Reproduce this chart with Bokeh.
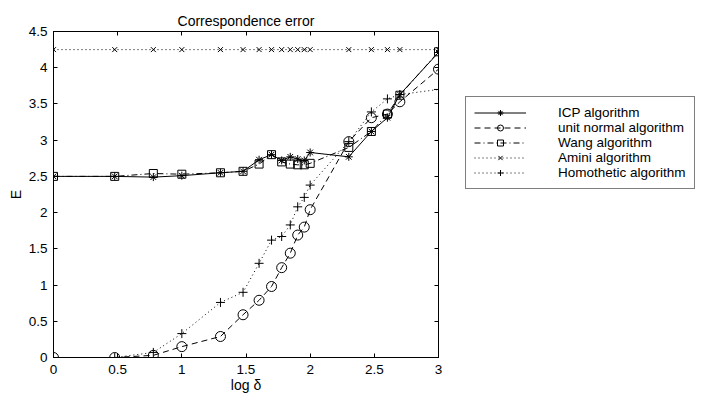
from bokeh.plotting import figure
from bokeh.models import Legend, LegendItem, LinearAxis, FixedTicker, Range1d
from bokeh.layouts import row
from bokeh.embed import file_html
from bokeh.resources import INLINE

# ---- data ----
log_delta = [0.0, 0.477, 0.778, 1.0, 1.301, 1.477, 1.602, 1.699, 1.778, 1.845,
             1.903, 1.954, 2.0, 2.301, 2.477, 2.602, 2.699, 3.0]
icp = [2.50, 2.50, 2.49, 2.51, 2.55, 2.57, 2.73, 2.80, 2.72, 2.77,
       2.74, 2.72, 2.83, 2.77, 3.12, 3.31, 3.63, 4.21]
unit_normal = [0.0, 0.0, 0.03, 0.15, 0.29, 0.59, 0.79, 0.98, 1.24, 1.44,
               1.69, 1.80, 2.04, 2.98, 3.31, 3.36, 3.53, 3.98]
wang = [2.50, 2.50, 2.54, 2.53, 2.55, 2.57, 2.67, 2.80, 2.70, 2.67,
        2.66, 2.66, 2.68, 2.90, 3.12, 3.36, 3.62, 4.22]
amini = [4.25, 4.25, 4.25, 4.25, 4.25, 4.25, 4.25, 4.25, 4.25, 4.25,
         4.25, 4.25, 4.25, 4.25, 4.25, 4.25, 4.25, 4.25]
homothetic = [0.0, 0.0, 0.07, 0.33, 0.76, 0.90, 1.30, 1.62, 1.67, 1.83,
              2.08, 2.21, 2.38, 2.98, 3.39, 3.57, 3.63, 3.70]

series_names = ["ICP algorithm", "unit normal algorithm", "Wang algorithm",
                "Amini algorithm", "Homothetic algorithm"]

x_ticks = [0, 0.5, 1, 1.5, 2, 2.5, 3]
x_tick_labels = ["0", "0.5", "1", "1.5", "2", "2.5", "3"]
y_ticks = [0, 0.5, 1, 1.5, 2, 2.5, 3, 3.5, 4, 4.5]
y_tick_labels = ["0", "0.5", "1", "1.5", "2", "2.5", "3", "3.5", "4", "4.5"]

title_text = "Correspondence error"
x_label = "log δ"
y_label = "E"

FONT = "Liberation Sans"
TICK_FS = "13.5px"
H = 400

# series styles: (values, line_dash, marker, size)
styles = [
    (icp, "solid", "asterisk", 8),
    (unit_normal, "6 4", "circle", 10),
    (wang, "6 3 1 3", "square", 8),
    (amini, "1 3", "x", 7),
    (homothetic, "1 3", "cross", 9),
]

# ================= main plot =================
p = figure(width=460, height=H, x_range=Range1d(0, 3), y_range=Range1d(0, 4.5),
           output_backend="svg", toolbar_location=None, title=title_text)
p.min_border = 0
p.min_border_left = 53
p.min_border_right = 22
p.min_border_top = 31
p.min_border_bottom = 43
p.background_fill_color = "white"
p.border_fill_color = "white"
p.outline_line_color = "black"
p.outline_line_width = 1
p.xgrid.visible = False
p.ygrid.visible = False

p.title.align = "center"
p.title.vertical_align = "middle"
p.title.text_font = FONT
p.title.text_font_size = "14px"
p.title.text_font_style = "normal"
p.title.text_color = "black"
p.title.standoff = 4


def style_axis(ax, ticks, labels, show_labels=True):
    ax.ticker = FixedTicker(ticks=ticks)
    ax.major_tick_in = 4
    ax.major_tick_out = 0
    ax.minor_tick_line_color = None
    ax.axis_line_color = "black"
    ax.major_tick_line_color = "black"
    ax.major_label_text_font = FONT
    if show_labels:
        ax.major_label_overrides = {t: l for t, l in zip(ticks, labels)}
        ax.major_label_text_font_size = TICK_FS
        ax.major_label_text_color = "black"
    else:
        ax.major_label_text_font_size = "1px"
        ax.major_label_text_color = None
        ax.major_label_standoff = 0


style_axis(p.xaxis[0], x_ticks, x_tick_labels)
style_axis(p.yaxis[0], y_ticks, y_tick_labels)
p.xaxis[0].major_label_standoff = 7
p.yaxis[0].major_label_standoff = 6

for ax, lab, so in ((p.xaxis[0], x_label, 0), (p.yaxis[0], y_label, 2)):
    ax.axis_label = lab
    ax.axis_label_text_font = FONT
    ax.axis_label_text_font_size = "14px"
    ax.axis_label_text_font_style = "normal"
    ax.axis_label_text_color = "black"
    ax.axis_label_standoff = so

top_ax = LinearAxis()
style_axis(top_ax, x_ticks, x_tick_labels, show_labels=False)
p.add_layout(top_ax, "above")
right_ax = LinearAxis()
style_axis(right_ax, y_ticks, y_tick_labels, show_labels=False)
p.add_layout(right_ax, "right")

for vals, dash, mk, sz in styles:
    p.line(log_delta, vals, line_color="black", line_width=1, line_dash=dash)
    p.scatter(log_delta, vals, marker=mk, size=sz, line_color="black",
              fill_color=None, line_width=1)

# ================= legend panel =================
lf = figure(width=250, height=H, x_range=Range1d(-10, -9), y_range=Range1d(-10, -9),
            output_backend="svg", toolbar_location=None,
            x_axis_location=None, y_axis_location=None)
lf.min_border = 0
lf.outline_line_color = None
lf.background_fill_color = "white"
lf.border_fill_color = "white"
lf.xgrid.visible = False
lf.ygrid.visible = False

items = []
for name, (vals, dash, mk, sz) in zip(series_names, styles):
    rl = lf.line(log_delta, vals, line_color="black", line_width=1, line_dash=dash)
    rm = lf.scatter(log_delta, vals, marker=mk, size=sz, line_color="black",
                    fill_color=None, line_width=1)
    items.append(LegendItem(label=name, renderers=[rl, rm]))

# frames of the row are aligned: location is measured from the main frame's bottom
legend = Legend(items=items, location=(5, 168))
legend.label_text_font = FONT
legend.label_text_font_size = "13.5px"
legend.label_text_color = "black"
legend.glyph_width = 52
legend.glyph_height = 15
legend.label_height = 15
legend.spacing = 0
legend.padding = 8
legend.margin = 0
legend.label_standoff = 32
legend.border_line_color = "black"
legend.border_line_width = 1
legend.background_fill_color = "white"
legend.background_fill_alpha = 1
lf.add_layout(legend, "center")

layout = row(p, lf)
open("out.html", "w").write(file_html(layout, INLINE))
